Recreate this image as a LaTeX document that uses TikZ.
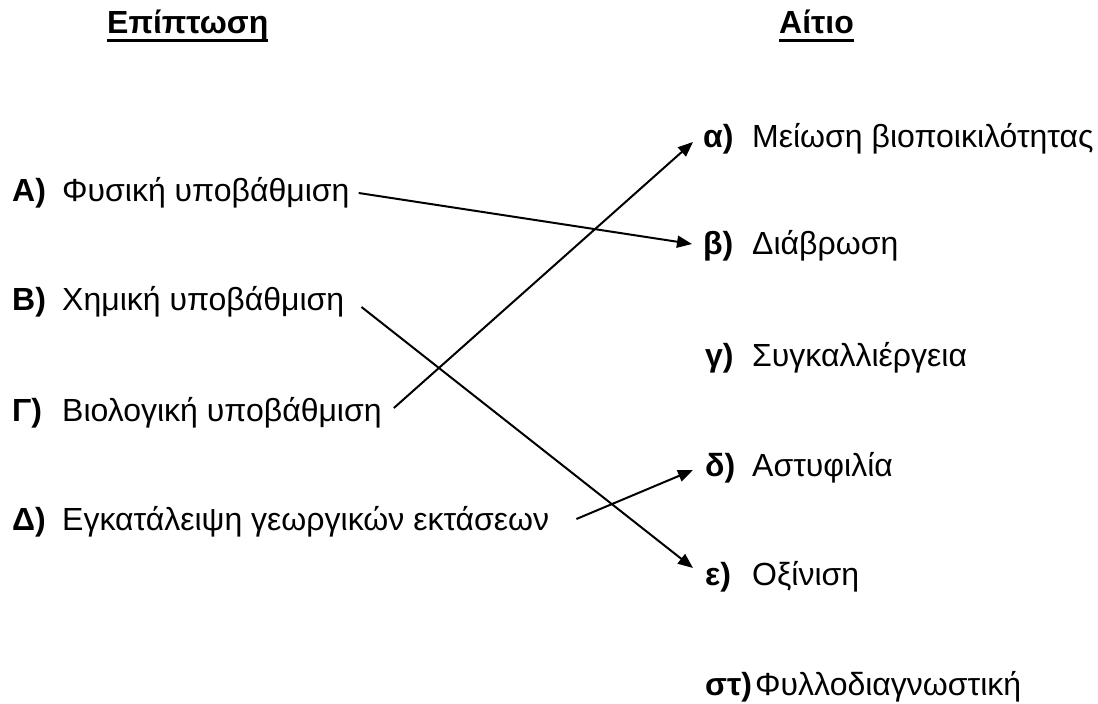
\documentclass[tikz,border=0pt]{standalone}
\usepackage{fontspec}
\setmainfont{Liberation Sans}
\usetikzlibrary{arrows.meta,calc}
\begin{document}
\begin{tikzpicture}[x=1pt,y=-1pt,
  txt/.style={anchor=base west,inner sep=0pt,font=\fontsize{32}{38}\selectfont},
  lbl/.style={txt,font=\fontsize{32}{38}\selectfont\bfseries},
  head/.style={anchor=base west,inner sep=0pt,font=\fontsize{32}{38}\selectfont\bfseries},
  conn/.style={line width=2pt,-{Triangle[length=15pt,width=12pt]}},
  uline/.style={line width=3pt}]
\useasboundingbox (0,0) rectangle (1098,704);
% headings
\node[head] (h1) at (107,33) {Επίπτωση};
\node[head] (h2) at (779,33) {Αίτιο};
\draw[uline] ([yshift=-7.5pt]h1.base west) -- ([yshift=-7.5pt]h1.base east);
\draw[uline] ([yshift=-7.5pt]h2.base west) -- ([yshift=-7.5pt]h2.base east);
% left column
\node[lbl] (A) at (12,201) {Α)};
\node[txt] (At) at (62,201) {Φυσική υποβάθμιση};
\node[lbl] (B) at (12,310) {Β)};
\node[txt] (Bt) at (62,310) {Χημική υποβάθμιση};
\node[lbl] (G) at (12,421) {Γ)};
\node[txt] (Gt) at (62,421) {Βιολογική υποβάθμιση};
\node[lbl] (D) at (12,530) {Δ)};
\node[txt] (Dt) at (62,530) {Εγκατάλειψη γεωργικών εκτάσεων};
% right column
\node[lbl] (a) at (703,147) {α)};
\node[txt] (at) at (752,147) {Μείωση βιοποικιλότητας};
\node[lbl] (b) at (703,254) {β)};
\node[txt] (bt) at (752,254) {Διάβρωση};
\node[lbl] (c) at (705,366) {γ)};
\node[txt] (ct) at (752,366) {Συγκαλλιέργεια};
\node[lbl] (d) at (705,476) {δ)};
\node[txt] (dt) at (752,476) {Αστυφιλία};
\node[lbl] (e) at (705,585) {ε)};
\node[txt] (et) at (752,585) {Οξίνιση};
\node[lbl] (f) at (705,695) {στ)};
\node[txt] (ft) at (755,695) {Φυλλοδιαγνωστική};
% connectors
\draw[conn] ([shift={(9pt,8pt)}]At.base east) -- ([shift={(-11pt,10pt)}]b.base west);
\draw[conn] ([shift={(17pt,3pt)}]Bt.base east) -- ([shift={(-12pt,17pt)}]e.base west);
\draw[conn] ([shift={(12pt,13pt)}]Gt.base east) -- ([shift={(-10pt,5pt)}]a.base west);
\draw[conn] ([shift={(27pt,11pt)}]Dt.base east) -- ([shift={(-12pt,6pt)}]d.base west);
\end{tikzpicture}
\end{document}
